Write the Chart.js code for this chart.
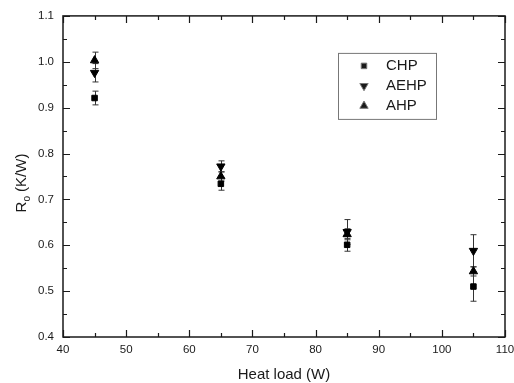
<!DOCTYPE html>
<html>
<head>
<meta charset="utf-8">
<script src="https://cdn.jsdelivr.net/npm/chart.js@4/dist/chart.umd.min.js"></script>
<style>
  html, body { margin: 0; padding: 0; background: #fff; }
  #wrap { width: 514px; height: 383px; }
</style>
</head>
<body>
<div id="wrap"><canvas id="chart" width="514" height="383"></canvas></div>
<script>
// data
const heatLoad = [45, 65, 85, 105];
const chpVals  = [0.921, 0.734, 0.601, 0.510];
const chpErr   = [0.015, 0.014, 0.014, 0.032];
const aehpVals = [0.976, 0.772, 0.629, 0.588];
const aehpErr  = [0.020, 0.012, 0.027, 0.035];
const ahpVals  = [1.003, 0.750, 0.624, 0.543];
const ahpErr   = [0.018, 0.010, 0.012, 0.010];
const seriesNames = ['CHP', 'AEHP', 'AHP'];

const toPoints = (vals, errs) => heatLoad.map((x, i) => ({ x: x, y: vals[i], err: errs[i] }));

const FONT = 'Arial, "Liberation Sans", sans-serif';
const INK = '#1a1a1a';

// vertical error bars with caps
const errorBars = {
  id: 'errorBars',
  beforeDatasetsDraw(chart) {
    const ctx = chart.ctx, ys = chart.scales.y, xs = chart.scales.x;
    ctx.save();
    ctx.strokeStyle = '#333';
    ctx.lineWidth = 1;
    chart.data.datasets.forEach(ds => {
      ds.data.forEach(p => {
        const px = Math.round(xs.getPixelForValue(p.x)) + 0.5;
        const top = ys.getPixelForValue(p.y + p.err);
        const bot = ys.getPixelForValue(p.y - p.err);
        ctx.beginPath();
        ctx.moveTo(px, top); ctx.lineTo(px, bot);
        ctx.moveTo(px - 3, top); ctx.lineTo(px + 3, top);
        ctx.moveTo(px - 3, bot); ctx.lineTo(px + 3, bot);
        ctx.stroke();
      });
    });
    ctx.restore();
  }
};

// frame, inward ticks on all sides, axis titles, legend box
const frame = {
  id: 'frame',
  afterDraw(chart) {
    const ctx = chart.ctx, a = chart.chartArea;
    const xs = chart.scales.x, ys = chart.scales.y;
    ctx.save();
    ctx.strokeStyle = INK;
    ctx.lineWidth = 1.5;
    ctx.strokeRect(a.left, a.top, a.right - a.left, a.bottom - a.top);

    ctx.lineWidth = 1.2;
    ctx.beginPath();
    xs.ticks.forEach(t => {
      const px = Math.round(xs.getPixelForValue(t.value)) + 0.5;
      const len = t.label !== '' ? 7 : 4;
      ctx.moveTo(px, a.bottom); ctx.lineTo(px, a.bottom - len);
      ctx.moveTo(px, a.top); ctx.lineTo(px, a.top + len);
    });
    ys.ticks.forEach(t => {
      const py = Math.round(ys.getPixelForValue(t.value)) + 0.5;
      const len = t.label !== '' ? 7 : 4;
      ctx.moveTo(a.left, py); ctx.lineTo(a.left + len, py);
      ctx.moveTo(a.right, py); ctx.lineTo(a.right - len, py);
    });
    ctx.stroke();

    // x title
    ctx.fillStyle = INK;
    ctx.font = '15px ' + FONT;
    ctx.textAlign = 'center';
    ctx.textBaseline = 'middle';
    ctx.fillText('Heat load (W)', (a.left + a.right) / 2, 375);

    // y title with subscript
    ctx.translate(22, 183);
    ctx.rotate(-Math.PI / 2);
    ctx.textAlign = 'left';
    const wR = ctx.measureText('R').width;
    ctx.font = '10px ' + FONT;
    const wo = ctx.measureText('o').width;
    ctx.font = '15px ' + FONT;
    const wRest = ctx.measureText(' (K/W)').width;
    let x0 = -(wR + wo + wRest) / 2;
    ctx.fillText('R', x0, 0);
    ctx.font = '10px ' + FONT;
    ctx.fillText('o', x0 + wR, 5);
    ctx.font = '15px ' + FONT;
    ctx.fillText(' (K/W)', x0 + wR + wo, 0);
    ctx.setTransform(1, 0, 0, 1, 0, 0);

    // legend
    const lx = a.left + 275, ly = a.top + 37, lw = 98, lh = 66;
    ctx.strokeStyle = '#777';
    ctx.lineWidth = 1;
    ctx.strokeRect(lx + 0.5, ly + 0.5, lw, lh);
    ctx.font = '15px ' + FONT;
    ctx.textAlign = 'left';
    chart.data.datasets.forEach((ds, i) => {
      const cy = ly + 13 + i * 20;
      Chart.helpers.drawPoint(ctx, {
        pointStyle: ds.pointStyle, radius: ds.pointRadius, rotation: ds.rotation || 0,
        borderWidth: 1
      }, lx + 26, cy);
      ctx.fillStyle = INK;
      ctx.fillText(ds.label, lx + 48, cy);
    });
    ctx.restore();
  }
};

const baseSet = {
  showLine: false,
  backgroundColor: '#000',
  borderColor: '#000',
  borderWidth: 1,
  pointRadius: 4.8,
  pointHoverRadius: 4.8
};

new Chart(document.getElementById('chart'), {
  type: 'scatter',
  data: {
    datasets: [
      Object.assign({}, baseSet, { label: seriesNames[0], data: toPoints(chpVals, chpErr), pointStyle: 'rect', pointRadius: 3.9 }),
      Object.assign({}, baseSet, { label: seriesNames[1], data: toPoints(aehpVals, aehpErr), pointStyle: 'triangle', rotation: 180 }),
      Object.assign({}, baseSet, { label: seriesNames[2], data: toPoints(ahpVals, ahpErr), pointStyle: 'triangle' })
    ]
  },
  options: {
    responsive: false,
    animation: false,
    layout: { padding: { left: 0, top: 13, right: 0, bottom: 0 } },
    plugins: {
      legend: { display: false },
      tooltip: { enabled: false }
    },
    scales: {
      x: {
        type: 'linear',
        min: 40, max: 110,
        grid: { display: false, drawTicks: false },
        border: { display: false },
        afterFit(s) { s.height = 46; s.paddingRight = 9; },
        ticks: {
          stepSize: 5,
          padding: 6,
          maxRotation: 0,
          autoSkip: false,
          color: INK,
          font: { family: FONT, size: 11.5 },
          callback: v => (v % 10 === 0 ? String(v) : '')
        }
      },
      y: {
        type: 'linear',
        min: 0.4, max: 1.1,
        grid: { display: false, drawTicks: false },
        border: { display: false },
        afterFit(s) { s.width = 63; },
        ticks: {
          stepSize: 0.05,
          padding: 9,
          autoSkip: false,
          color: INK,
          font: { family: FONT, size: 11.5 },
          callback: v => (Math.round(v * 100) % 10 === 0 ? v.toFixed(1) : '')
        }
      }
    }
  },
  plugins: [errorBars, frame]
});
</script>
</body>
</html>
